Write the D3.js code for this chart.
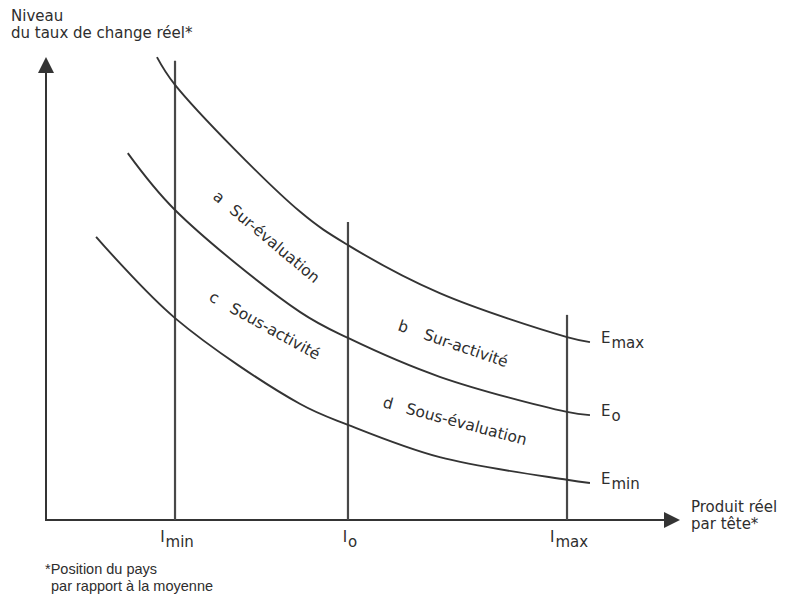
<!DOCTYPE html>
<html><head><meta charset="utf-8">
<script src="https://cdn.jsdelivr.net/npm/d3@7"></script>
<style>
html,body{margin:0;padding:0;background:#fff;}
svg{display:block;font-family:"DejaVu Sans",sans-serif;}
</style></head><body>
<svg id="chart" width="789" height="596"></svg>
<script>
// ---- data (abstract units: 0..100 on each axis) ----
const curveMain = ["E", "E", "E"];
const curveSub = ["max", "o", "min"];
const emaxX = [17.5, 20.35, 40.1, 47.63, 62.1, 82.18, 85.8];
const emaxY = [100.2, 94.2, 66.7, 59.5, 49.1, 39.6, 38.5];
const eoX = [12.9, 20.35, 40.1, 47.63, 62.1, 82.18, 85.8];
const eoY = [79.4, 67.1, 45.0, 39.4, 31.0, 23.4, 22.7];
const eminX = [7.9, 20.35, 40.1, 47.63, 62.1, 82.18, 85.8];
const eminY = [61.3, 43.7, 25.1, 20.6, 13.6, 8.7, 8.0];

const incomeMain = ["I", "I", "I"];
const incomeSub = ["min", "o", "max"];
const incomeX = [20.35, 47.63, 82.18];
const incomeTop = [99.4, 64.5, 44.4];

const regionLetters = ["a", "b", "c", "d"];
const regionTexts = ["Sur-évaluation", "Sur-activité", "Sous-activité", "Sous-évaluation"];

const yTitle = ["Niveau", "du taux de change réel*"];
const xTitle = ["Produit réel", "par tête*"];
const footnote = ["*Position du pays", "par rapport à la moyenne"];

// ---- drawing ----
const svg = d3.select("#chart");
const x = d3.scaleLinear().domain([0, 100]).range([46, 680]);
const y = d3.scaleLinear().domain([0, 100]).range([520, 58]);
const ink = "#343434";

// axes
const axisG = svg.append("g");
axisG.append("line").attr("x1", x(0)).attr("x2", x(0)).attr("y1", y(0)).attr("y2", y(97))
  .attr("stroke", ink).attr("stroke-width", 2);
axisG.append("path")
  .attr("d", `M${x(0)},${y(100) - 1} L${x(0) - 8},${y(100) + 15} L${x(0) + 8},${y(100) + 15} Z`)
  .attr("fill", ink);
axisG.append("line").attr("x1", x(0) - 1).attr("x2", x(97.5)).attr("y1", y(0)).attr("y2", y(0))
  .attr("stroke", ink).attr("stroke-width", 2);
axisG.append("path")
  .attr("d", `M${x(100)},${y(0)} L${x(100) - 16},${y(0) - 8} L${x(100) - 16},${y(0) + 8} Z`)
  .attr("fill", ink);

// vertical income lines
svg.append("g").selectAll("line").data(incomeX).join("line")
  .attr("x1", d => x(d)).attr("x2", d => x(d))
  .attr("y1", y(0)).attr("y2", (d, i) => y(incomeTop[i]))
  .attr("stroke", "#484848").attr("stroke-width", 2.2);

// curves
const curves = [
  emaxX.map((v, i) => [v, emaxY[i]]),
  eoX.map((v, i) => [v, eoY[i]]),
  eminX.map((v, i) => [v, eminY[i]])
];
const line = d3.line().x(d => x(d[0])).y(d => y(d[1])).curve(d3.curveCatmullRom.alpha(0.5));
svg.append("g").selectAll("path").data(curves).join("path")
  .attr("d", line).attr("fill", "none").attr("stroke", ink).attr("stroke-width", 1.9);

// curve labels
const eLab = svg.append("g").attr("fill", "#2e2e2e").attr("font-size", 15);
curves.forEach((c, i) => {
  const last = c[c.length - 1];
  const t = eLab.append("text").attr("x", x(last[0]) + 11).attr("y", y(last[1]) + 1);
  t.append("tspan").text(curveMain[i]);
  t.append("tspan").attr("dy", 5).attr("dx", 1).text(curveSub[i]);
});

// income labels
const iLab = svg.append("g").attr("fill", "#2e2e2e").attr("font-size", 15);
incomeX.forEach((v, i) => {
  const t = iLab.append("text").attr("x", x(v) + 2).attr("y", y(0) + 22).attr("text-anchor", "middle");
  t.append("tspan").text(incomeMain[i]);
  t.append("tspan").attr("dy", 5).attr("dx", 1).text(incomeSub[i]);
});

// region labels (rotated along curves)
const regionLayout = [
  { px: 212, py: 198, angle: 40, gap: 12 },
  { px: 397, py: 330, angle: 19, gap: 17 },
  { px: 208, py: 300, angle: 29, gap: 15 },
  { px: 382, py: 407, angle: 15, gap: 14 }
];
const rLab = svg.append("g").attr("fill", "#2e2e2e").attr("font-size", 15.5);
regionLetters.forEach((l, i) => {
  const L = regionLayout[i];
  const t = rLab.append("text").attr("transform", `translate(${L.px},${L.py}) rotate(${L.angle})`);
  t.append("tspan").text(l);
  t.append("tspan").attr("dx", L.gap).text(regionTexts[i]);
});

// titles
const tG = svg.append("g").attr("fill", "#2e2e2e").attr("font-size", 15);
yTitle.forEach((s, i) => tG.append("text").attr("x", 11).attr("y", 21 + i * 17).text(s));
xTitle.forEach((s, i) => tG.append("text").attr("x", 691).attr("y", 512 + i * 17).text(s));
const fG = svg.append("g").attr("fill", "#2e2e2e").attr("font-size", 14.5)
  .attr("font-family", "'Liberation Sans', Arial, sans-serif");
footnote.forEach((s, i) => fG.append("text").attr("x", i === 0 ? 45 : 51).attr("y", 574 + i * 17).text(s));
</script>
</body></html>
